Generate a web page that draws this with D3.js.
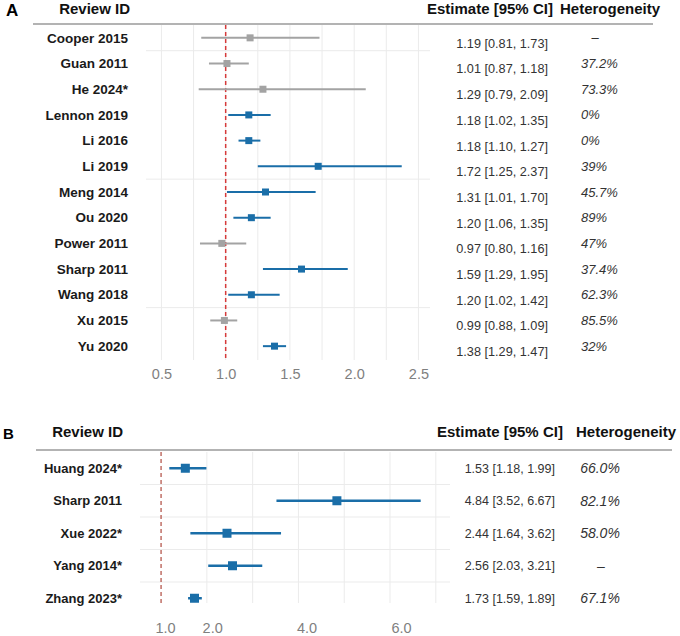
<!DOCTYPE html>
<html>
<head>
<meta charset="utf-8">
<script src="https://cdn.jsdelivr.net/npm/d3@7"></script>
<style>
  body { margin: 0; background: #fff; }
  svg { font-family: "Liberation Sans", Arial, sans-serif; }
  .label { font-weight: bold; fill: #1a1a1a; }
  .header { font-weight: bold; fill: #111; font-size: 15px; }
  .est { fill: #333; }
  .het { fill: #333; font-style: italic; }
  .tick text { fill: #7f7f7f; font-size: 14.5px; }
</style>
</head>
<body>
<div id="wrapper"></div>
<script>
// Panel A data
const reviewsA = ["Cooper 2015", "Guan 2011", "He 2024*", "Lennon 2019", "Li 2016", "Li 2019",
  "Meng 2014", "Ou 2020", "Power 2011", "Sharp 2011", "Wang 2018", "Xu 2015", "Yu 2020"]
const estA  = [1.19, 1.01, 1.29, 1.18, 1.18, 1.72, 1.31, 1.20, 0.97, 1.59, 1.20, 0.99, 1.38]
const lowA  = [0.81, 0.87, 0.79, 1.02, 1.10, 1.25, 1.01, 1.06, 0.80, 1.29, 1.02, 0.88, 1.29]
const highA = [1.73, 1.18, 2.09, 1.35, 1.27, 2.37, 1.70, 1.35, 1.16, 1.95, 1.42, 1.09, 1.47]
const hetA  = ["–", "37.2%", "73.3%", "0%", "0%", "39%", "45.7%", "89%", "47%", "37.4%", "62.3%", "85.5%", "32%"]
const ticksA = [0.5, 1.0, 1.5, 2.0, 2.5]
const gridA = [0.5, 0.75, 1.0, 1.25, 1.5, 1.75, 2.0, 2.25, 2.5]
const rowGridA = [1, 6, 11]   // row lines drawn above these rows

// Panel B data
const reviewsB = ["Huang 2024*", "Sharp 2011", "Xue 2022*", "Yang 2014*", "Zhang 2023*"]
const estB  = [1.53, 4.84, 2.44, 2.56, 1.73]
const lowB  = [1.18, 3.52, 1.64, 2.03, 1.59]
const highB = [1.99, 6.67, 3.62, 3.21, 1.89]
const hetB  = ["66.0%", "82.1%", "58.0%", "–", "67.1%"]
const ticksB = [1.0, 2.0, 4.0, 6.0]
const gridB = [2, 3, 4, 5, 6, 7]
const rowGridB = [1, 2, 3, 4]

const blue = "#1a6ea8"
const grey = "#a3a3a3"
const fmt = d3.format(".2f")

const svg = d3.select("#wrapper")
  .append("svg")
    .attr("width", 680)
    .attr("height", 636)

function drawPanel(p) {
  const g = svg.append("g")
  const rows = p.reviews.map((r, i) => ({
    id: r, est: p.est[i], low: p.low[i], high: p.high[i], het: p.het[i],
  }))

  const y = d3.scaleBand()
    .domain(p.reviews)
    .range(p.yRange)
  const yc = d => y(d) + y.bandwidth() / 2

  // panel letter + headers
  g.append("text")
      .attr("x", p.letterX).attr("y", p.headY + 2)
      .style("font-weight", "bold").style("font-size", p.letterSize + "px")
      .text(p.letter)
  g.append("text").attr("class", "header")
      .attr("x", p.idHeadX).attr("y", p.headY).attr("text-anchor", "end")
      .text("Review ID")
  g.append("text").attr("class", "header")
      .attr("x", p.estHeadX).attr("y", p.headY)
      .text("Estimate [95% CI]")
  g.append("text").attr("class", "header")
      .attr("x", p.hetHeadX).attr("y", p.headY)
      .text("Heterogeneity")
  g.append("line")
      .attr("x1", p.ruleX[0]).attr("x2", p.ruleX[1])
      .attr("y1", p.ruleY).attr("y2", p.ruleY)
      .attr("stroke", "#9a9a9a").attr("stroke-width", 1.5)

  // grid
  const [gx0, gx1] = p.x.range()
  g.selectAll(".vgrid")
      .data(p.grid)
    .enter().append("line")
      .attr("x1", d => p.x(d)).attr("x2", d => p.x(d))
      .attr("y1", p.yRange[0]).attr("y2", p.gridBottom)
      .attr("stroke", "#ebebeb").attr("stroke-width", 1)
  g.selectAll(".hgrid")
      .data(p.rowGrid)
    .enter().append("line")
      .attr("x1", gx0).attr("x2", gx1)
      .attr("y1", d => y(p.reviews[d])).attr("y2", d => y(p.reviews[d]))
      .attr("stroke", "#ebebeb").attr("stroke-width", 1)

  // reference line at 1
  g.append("line")
      .attr("x1", p.x(1)).attr("x2", p.x(1))
      .attr("y1", p.yRange[0]).attr("y2", p.gridBottom)
      .attr("stroke", p.refColor).attr("stroke-width", p.refWidth)
      .attr("stroke-dasharray", "4,3")

  // intervals + points
  const colour = d => (d.low < 1 && d.high > 1) ? grey : blue
  g.selectAll(".ci")
      .data(rows)
    .enter().append("line")
      .attr("x1", d => p.x(d.low)).attr("x2", d => p.x(d.high))
      .attr("y1", d => yc(d.id)).attr("y2", d => yc(d.id))
      .attr("stroke", colour).attr("stroke-width", p.lineWidth)
  g.selectAll(".pt")
      .data(rows)
    .enter().append("rect")
      .attr("x", d => p.x(d.est) - p.box / 2)
      .attr("y", d => yc(d.id) - p.box / 2)
      .attr("width", p.box).attr("height", p.box)
      .attr("fill", colour)

  // labels
  g.selectAll(".label")
      .data(rows)
    .enter().append("text")
      .attr("class", "label")
      .attr("x", p.labelX).attr("y", d => yc(d.id))
      .attr("dy", "0.35em").attr("text-anchor", "end")
      .style("font-size", p.labelSize + "px")
      .text(d => d.id)
  g.selectAll(".est")
      .data(rows)
    .enter().append("text")
      .attr("class", "est")
      .attr("x", p.estX).attr("y", d => yc(d.id) + p.estDy)
      .attr("dy", "0.35em").attr("text-anchor", "end")
      .style("font-size", p.estSize + "px")
      .text(d => `${fmt(d.est)} [${fmt(d.low)}, ${fmt(d.high)}]`)
  g.selectAll(".het")
      .data(rows)
    .enter().append("text")
      .attr("class", "het")
      .attr("x", d => d.het === "–" ? p.dashX : p.hetX)
      .attr("y", d => yc(d.id))
      .attr("dy", "0.35em")
      .attr("text-anchor", d => d.het === "–" ? "middle" : p.hetAnchor)
      .style("font-size", p.hetSize + "px")
      .text(d => d.het)

  // axis labels
  const axis = d3.axisBottom(p.tickScale)
    .tickValues(p.ticks)
    .tickSize(0)
    .tickPadding(0)
    .tickFormat(d3.format(".1f"))
  g.append("g")
      .attr("transform", `translate(0, ${p.axisY})`)
      .call(axis)
    .call(a => a.select(".domain").remove())
}

const xA = d3.scaleLinear().domain([0.38, 2.59]).range([146, 430])
drawPanel({
  reviews: reviewsA, est: estA, low: lowA, high: highA, het: hetA,
  ticks: ticksA, grid: gridA, rowGrid: rowGridA,
  x: xA, tickScale: xA, yRange: [25, 359], gridBottom: 360,
  letter: "A", letterX: 6, letterSize: 17, headY: 14,
  idHeadX: 130, estHeadX: 427, hetHeadX: 560, ruleX: [33, 653], ruleY: 24,
  labelX: 128, labelSize: 13.5, estX: 548, estSize: 12.7, estDy: 5.5,
  hetX: 581, dashX: 595, hetAnchor: "start", hetSize: 13,
  box: 7, lineWidth: 2, refColor: "#d63a3a", refWidth: 1.5, axisY: 369,
})

const xB = d3.scaleLinear().domain([0.54, 7.31]).range([140, 450])
const tickScaleB = d3.scaleLinear().domain([1, 6]).range([165, 401])
drawPanel({
  reviews: reviewsB, est: estB, low: lowB, high: highB, het: hetB,
  ticks: ticksB, grid: gridB, rowGrid: rowGridB,
  x: xB, tickScale: tickScaleB, yRange: [452, 614.5], gridBottom: 603,
  letter: "B", letterX: 3, letterSize: 15, headY: 437,
  idHeadX: 123, estHeadX: 437, hetHeadX: 576, ruleX: [36, 672], ruleY: 450,
  labelX: 122, labelSize: 13, estX: 555, estSize: 12.5, estDy: 0,
  hetX: 600, dashX: 601, hetAnchor: "middle", hetSize: 14,
  box: 9, lineWidth: 2.5, refColor: "#b04a40", refWidth: 1.2, axisY: 623,
})
</script>
</body>
</html>
